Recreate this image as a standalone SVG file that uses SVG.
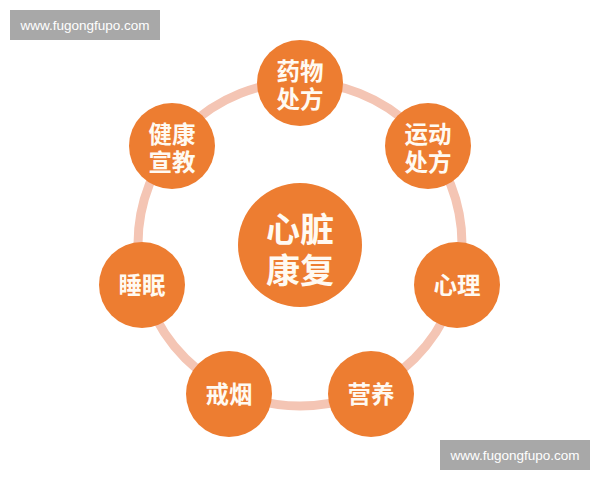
<svg xmlns="http://www.w3.org/2000/svg" width="600" height="480" viewBox="0 0 600 480">
<style>
.wm{fill:#a8a8a8}
.wmt{fill:#ffffff;font-family:"Liberation Sans",Arial,sans-serif;font-size:13.5px;text-anchor:middle}
.node{fill:#ed7d31}
.lbl{fill:#fffaf2;font-family:"Noto Sans CJK SC","Noto Sans",sans-serif;font-weight:bold;font-size:23.5px;text-anchor:middle;dominant-baseline:central}
.big{font-size:34px}
.ring{fill:none;stroke:#f4c5b4;stroke-width:9}
</style>
<rect width="600" height="480" fill="#ffffff"/>
<g id="connectors">
<circle class="ring" cx="300" cy="244" r="162"/>
</g>
<g id="center">
<circle class="node" cx="300" cy="245" r="62"/>
<text class="lbl big" x="300" y="227">心脏</text>
<text class="lbl big" x="300" y="268">康复</text>
</g>
<g id="n-yaowu">
<circle class="node" cx="300" cy="83" r="43"/>
<text class="lbl" x="300" y="69.5">药物</text>
<text class="lbl" x="300" y="97.5">处方</text>
</g>
<g id="n-yundong">
<circle class="node" cx="428" cy="146" r="43"/>
<text class="lbl" x="428" y="132.5">运动</text>
<text class="lbl" x="428" y="160.5">处方</text>
</g>
<g id="n-xinli">
<circle class="node" cx="457" cy="285" r="43"/>
<text class="lbl" x="457" y="284">心理</text>
</g>
<g id="n-yingyang">
<circle class="node" cx="371" cy="394" r="43"/>
<text class="lbl" x="371" y="393">营养</text>
</g>
<g id="n-jieyan">
<circle class="node" cx="229" cy="394" r="43"/>
<text class="lbl" x="229" y="393">戒烟</text>
</g>
<g id="n-shuimian">
<circle class="node" cx="142" cy="285" r="43"/>
<text class="lbl" x="142" y="284">睡眠</text>
</g>
<g id="n-jiankang">
<circle class="node" cx="172" cy="146" r="43"/>
<text class="lbl" x="172" y="132.5">健康</text>
<text class="lbl" x="172" y="160.5">宣教</text>
</g>
<g id="watermarks">
<rect class="wm" x="10" y="10" width="150" height="30"/>
<text class="wmt" x="85" y="29.5">www.fugongfupo.com</text>
<rect class="wm" x="440" y="440" width="150" height="30"/>
<text class="wmt" x="515" y="459.5">www.fugongfupo.com</text>
</g>
</svg>
